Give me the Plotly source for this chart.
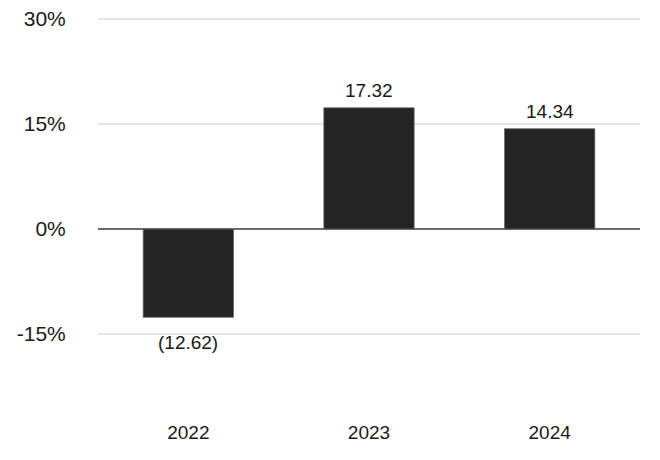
import plotly.graph_objects as go

years = ["2022", "2023", "2024"]
returns = [-12.62, 17.32, 14.34]
y_ticks = [-15, 0, 15, 30]
y_tick_labels = ["-15%", "0%", "15%", "30%"]

def fmt(v):
    return f"({abs(v):.2f})" if v < 0 else f"{v:.2f}"

BAR = "#232423"
TXT = "#1a1a1a"
FONT = "Liberation Sans, Arial, sans-serif"

pos = list(range(len(years)))

fig = go.Figure()
fig.add_trace(go.Bar(
    x=pos, y=returns,
    marker=dict(color=BAR, line=dict(color="#6a6a6a", width=0.8)),
    width=0.5, hoverinfo="skip",
))

for x, v in zip(pos, returns):
    fig.add_annotation(
        x=x, y=v, text=fmt(v), showarrow=False,
        yanchor="middle", xanchor="center",
        yshift=17 if v >= 0 else -25,
        font=dict(family=FONT, size=19, color=TXT),
    )

fig.update_layout(
    width=660, height=460,
    margin=dict(l=90, r=28, t=9, b=57),
    paper_bgcolor="white", plot_bgcolor="white",
    showlegend=False,
    font=dict(family=FONT, color=TXT),
)
fig.update_xaxes(
    range=[-0.5, len(years) - 0.5], tickvals=pos, ticktext=years,
    showgrid=False, showline=False, zeroline=False, automargin=False,
    ticks="outside", ticklen=4, tickcolor="rgba(0,0,0,0)",
    ticklabeloverflow="allow",
    tickfont=dict(size=19, color=TXT, family=FONT),
)
fig.update_yaxes(
    range=[-26, 30.3], tickvals=y_ticks, ticktext=y_tick_labels,
    showgrid=True, gridcolor="#e6e6e6", gridwidth=1.5,
    zeroline=True, zerolinecolor="#6b6b6b", zerolinewidth=1.5,
    showline=False, automargin=False,
    ticks="outside", ticklen=27, tickcolor="rgba(0,0,0,0)",
    ticklabeloverflow="allow",
    tickfont=dict(size=21, color=TXT, family=FONT),
)

fig.write_html("out.html")
